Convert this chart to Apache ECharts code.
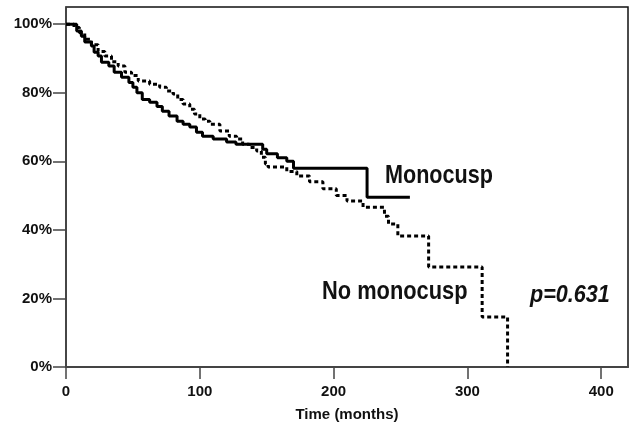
<!DOCTYPE html>
<html><head><meta charset="utf-8">
<script src="https://cdn.jsdelivr.net/npm/echarts@6/dist/echarts.min.js"></script>
<style>html,body{margin:0;padding:0;background:#fff}#c{width:630px;height:427px}</style>
</head><body><div id="c"></div>
<script>
// Monocusp (solid) Kaplan-Meier points: time (months), survival (%)
const monoTime = [0,8,11.5,14,19,21,24,26.5,32,36,41.5,47,50,53,57,62.5,68,72,77,83,87.5,92.5,97.5,102,110,120,127,147,150,158,165,170,225,257];
const monoSurv = [100,98,96.5,94.8,93.6,91.8,90.7,88.9,87.8,86,84.5,83,81.6,80,78,77.2,76,74.6,73.2,71.7,70.8,70,68.5,67.3,66.5,65.6,65,63.5,62.2,61,60,58,49.5,49.5];
// No monocusp (dotted)
const noTime = [0,6,10,14,19,24,29,34,39,44,49,54,62.5,70,75,80,83.5,87.5,92.5,96,100,104,107.5,115,122,127.5,132,137,142.5,146,149,151,165,172.5,182,192,202,210,222,238,241,248,271,311,330];
const noSurv = [100,99,97.5,95.6,94,92,90.7,89,87.8,86,85,83.4,82.5,81.6,80.5,79.6,78,76.7,75.2,73.8,72.3,71.7,70.8,68.8,67.3,66.5,65,64,63,61.2,59.2,58.3,57,55.7,54,52,50,48.4,46.6,44,41.7,38.2,29.2,14.6,0];
const xTicks = [0,100,200,300,400];
const yTicks = [0,20,40,60,80,100];
const seriesNames = ['Monocusp','No monocusp'];

const font = "'Liberation Sans',Arial,sans-serif";
const chart = echarts.init(document.getElementById('c'), null, {renderer:'canvas'});
const zip = (a,b)=>a.map((v,i)=>[v,b[i]]);
const txt = (text,x,y,size,italic,sx)=>({type:'text',x:x,y:y,scaleX:sx,scaleY:1,
  style:{text:text,fontFamily:font,fontWeight:'bold',fontStyle:italic?'italic':'normal',fontSize:size,fill:'#111',align:'left',verticalAlign:'middle'}});
chart.setOption({
  animation:false,
  backgroundColor:'#fff',
  grid:{left:66,right:2,top:7,bottom:59,show:true,borderColor:'#111',borderWidth:1.5,backgroundColor:'transparent'},
  xAxis:{type:'value',min:0,max:420,interval:100,
    name:'Time (months)',nameLocation:'middle',nameGap:40,
    nameTextStyle:{fontFamily:font,fontWeight:'bold',fontSize:15,color:'#111'},
    axisLine:{show:true,onZero:false,lineStyle:{color:'#444',width:2}},
    axisTick:{show:true,length:12,customValues:xTicks,lineStyle:{color:'#444',width:1.5}},
    axisLabel:{customValues:xTicks,margin:17,fontFamily:font,fontWeight:'bold',fontSize:15,color:'#111'},
    splitLine:{show:false}},
  yAxis:{type:'value',min:0,max:105,interval:20,
    axisLine:{show:true,lineStyle:{color:'#444',width:1.5}},
    axisTick:{show:true,length:13,customValues:yTicks,lineStyle:{color:'#444',width:1.5}},
    axisLabel:{customValues:yTicks,margin:14,fontFamily:font,fontWeight:'bold',fontSize:15,color:'#111',formatter:v=>v+'%'},
    splitLine:{show:false}},
  series:[
    {name:seriesNames[0],type:'line',step:'end',symbol:'none',data:zip(monoTime,monoSurv),
     lineStyle:{color:'#000',width:3,type:'solid'}},
    {name:seriesNames[1],type:'line',step:'end',symbol:'none',data:zip(noTime,noSurv),
     lineStyle:{color:'#000',width:3,type:[4,3]}}
  ],
  graphic:[
    txt('Monocusp',385,176,26,false,0.83),
    txt('No monocusp',322,292,26,false,0.84),
    txt('p=0.631',530,295,24,true,0.9)
  ]
});
</script></body></html>
